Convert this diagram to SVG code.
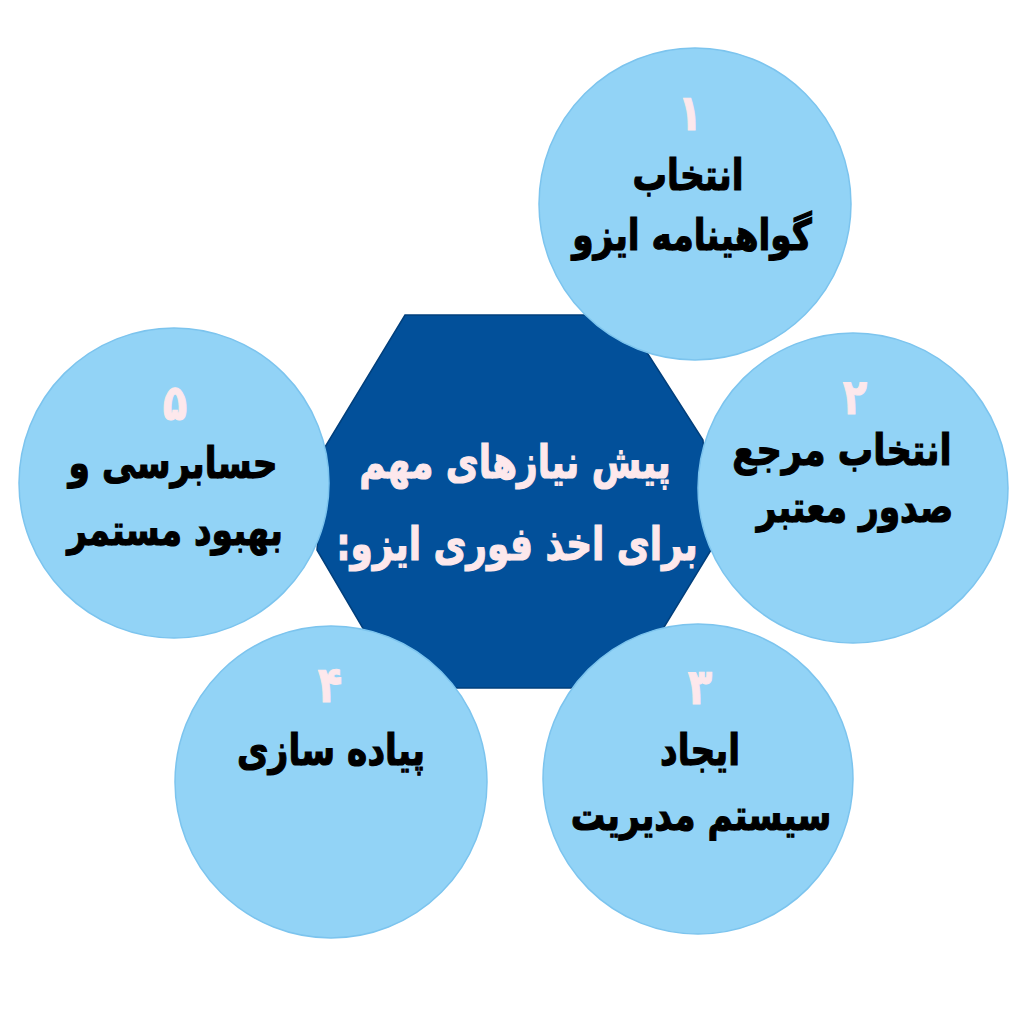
<svg xmlns="http://www.w3.org/2000/svg" width="1024" height="1024" viewBox="0 0 1024 1024">
<style>
.c{fill:#92d3f6;stroke:#7cc4ee;stroke-width:1.5}
.hex{fill:#02509a;stroke:#013f7c;stroke-width:1.5}
.t{font-family:"DejaVu Sans",sans-serif;font-weight:bold;font-size:43px;fill:#000;stroke:#000;stroke-width:1.2;text-anchor:middle}
.n{font-family:"DejaVu Sans",sans-serif;font-weight:bold;font-size:50px;fill:#fde8ec;stroke:#fde8ec;stroke-width:1;text-anchor:middle}
.m{font-family:"DejaVu Sans",sans-serif;font-weight:bold;font-size:46px;fill:#fde8ec;stroke:#fde8ec;stroke-width:1.2;text-anchor:middle}
</style>
<rect width="1024" height="1024" fill="#fff"/>
<g id="connectors"/>
<g id="hub">
<polygon class="hex" points="405,315 623,315 703,440 711,550 627,688 398,688 317,550 325,447"/>
</g>
<g id="node1">
<circle class="c" cx="695" cy="204" r="156"/>
<text class="n" transform="translate(690,130) scale(0.8,1)" direction="rtl">۱</text>
<text class="t" transform="translate(688,190) scale(0.8,1)" direction="rtl">انتخاب</text>
<text class="t" transform="translate(692,250) scale(0.8,1)" direction="rtl">گواهینامه ایزو</text>
</g>
<g id="node2">
<circle class="c" cx="853" cy="488" r="155"/>
<text class="n" transform="translate(855,414) scale(0.8,1)" direction="rtl">۲</text>
<text class="t" transform="translate(842,465) scale(0.82,1)" direction="rtl">انتخاب مرجع</text>
<text class="t" transform="translate(855,522) scale(0.8,1)" direction="rtl">صدور معتبر</text>
</g>
<g id="node3">
<circle class="c" cx="698" cy="779" r="155"/>
<text class="n" transform="translate(700,704) scale(0.8,1)" direction="rtl">۳</text>
<text class="t" transform="translate(700,765) scale(0.8,1)" direction="rtl">ایجاد</text>
<text class="t" transform="translate(701,830) scale(0.8,1)" direction="rtl">سیستم مدیریت</text>
</g>
<g id="node4">
<circle class="c" cx="331" cy="782" r="156"/>
<text class="n" transform="translate(330,702) scale(0.8,1)" direction="rtl">۴</text>
<text class="t" transform="translate(331,765) scale(0.8,1)" direction="rtl">پیاده سازی</text>
</g>
<g id="node5">
<circle class="c" cx="174" cy="483" r="155"/>
<text class="n" transform="translate(175,420) scale(0.8,1)" direction="rtl">۵</text>
<text class="t" transform="translate(173,478) scale(0.8,1)" direction="rtl">حسابرسی و</text>
<text class="t" transform="translate(175,545) scale(0.8,1)" direction="rtl">بهبود مستمر</text>
</g>
<g id="hub-label">
<text class="m" transform="translate(515,478) scale(0.78,1)" direction="rtl">پیش نیازهای مهم</text>
<text class="m" transform="translate(517,560) scale(0.78,1)" direction="rtl">برای اخذ فوری ایزو:</text>
</g>
</svg>
